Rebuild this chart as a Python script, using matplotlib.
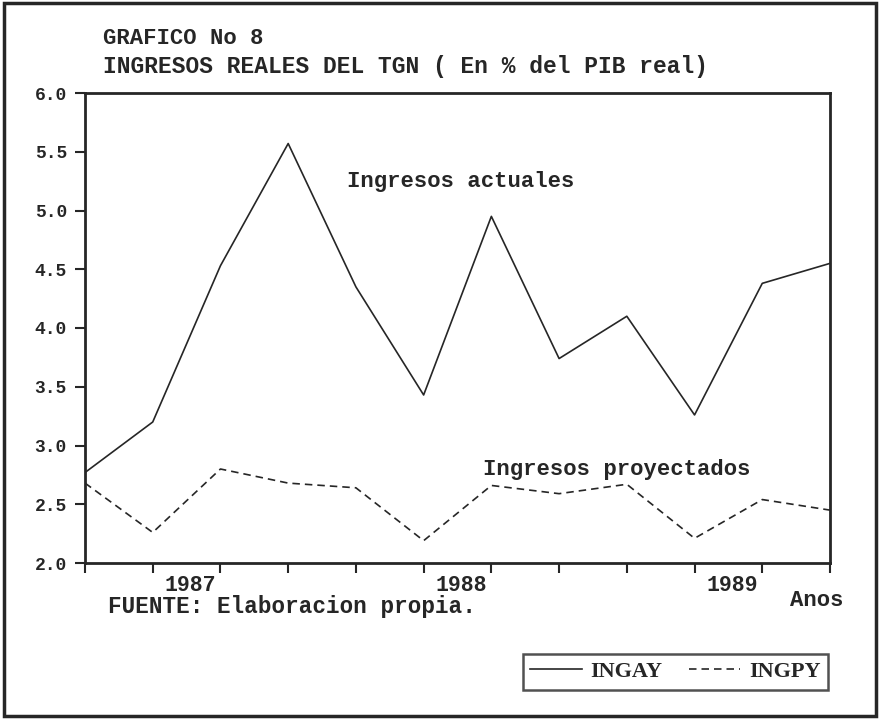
import numpy as np
import matplotlib
matplotlib.use("Agg")
import matplotlib.pyplot as plt
import matplotlib.transforms as mtransforms
from matplotlib.patches import Rectangle

# --- Quarterly series (% of real GDP) ---
quarters = np.arange(12)
ingay = [2.77, 3.20, 4.53, 5.57, 4.35, 3.43, 4.95, 3.74, 4.10, 3.26, 4.38, 4.55]
ingpy = [2.68, 2.26, 2.80, 2.68, 2.64, 2.19, 2.66, 2.59, 2.67, 2.21, 2.54, 2.45]
year_labels = ["", "", "1987", "", "", "", "1988", "", "", "", "1989", ""]
y_ticks = [2.0, 2.5, 3.0, 3.5, 4.0, 4.5, 5.0, 5.5, 6.0]

INK = "#262626"
FONT = "Liberation Mono"

plt.rcParams["font.family"] = FONT
plt.rcParams["font.weight"] = "bold"


def main():
    fig = plt.figure(figsize=(8.8, 7.19), dpi=100)
    W, H = 880, 719
    ax = fig.add_axes([85 / W, 1 - 563 / H, (830 - 85) / W, (563 - 93) / H])

    line_a, = ax.plot(quarters, ingay, color=INK, lw=1.2, label="INGAY")
    line_p, = ax.plot(quarters, ingpy, color=INK, lw=1.2, linestyle=(0, (4.5, 3)), label="INGPY")

    ax.set_xlim(0, 11)
    ax.set_ylim(2.0, 6.0)
    ax.set_yticks(y_ticks)
    ax.set_yticklabels([f"{v:.1f}" for v in y_ticks], fontsize=13, color=INK)
    ax.set_xticks(quarters)
    ax.set_xticklabels(year_labels, fontsize=15.5, color=INK, ha="right")
    ax.tick_params(axis="both", direction="out", length=7, width=1.5, color=INK)
    ax.tick_params(axis="y", pad=6)
    ax.tick_params(axis="x", pad=1.5)
    # shift the year labels slightly left of their tick
    offset = mtransforms.ScaledTranslation(-4 / 100, 0, fig.dpi_scale_trans)
    for lbl in ax.get_xticklabels():
        lbl.set_transform(lbl.get_transform() + offset)
    for sp in ax.spines.values():
        sp.set_linewidth(2.0)
        sp.set_color(INK)

    # titles and notes
    fig.text(103 / W, 1 - 38 / H, "GRAFICO No 8", fontsize=16, color=INK, va="center")
    fig.text(103 / W, 1 - 67 / H, "INGRESOS REALES DEL TGN ( En % del PIB real)",
             fontsize=16.5, color=INK, va="center")
    fig.text(347 / W, 1 - 181 / H, "Ingresos actuales", fontsize=16, color=INK, va="center")
    fig.text(483 / W, 1 - 470 / H, "Ingresos proyectados", fontsize=16, color=INK, va="center")
    fig.text(108 / W, 1 - 606 / H, "FUENTE: Elaboracion propia.", fontsize=16.3, color=INK, va="center")
    fig.text(790 / W, 1 - 601 / H, "Anos", fontsize=16, color=INK, va="center")

    # legend box along the bottom right
    leg = fig.legend(handles=[line_a, line_p], loc="center", ncol=2,
                     bbox_to_anchor=(675.5 / W, 1 - 672 / H),
                     prop={"family": "Liberation Serif", "weight": "bold", "size": 16},
                     frameon=True, fancybox=False, edgecolor=INK, handlelength=2.3,
                     columnspacing=1.2, handletextpad=0.4, borderpad=0.35)
    leg.get_frame().set_linewidth(1.8)
    for t in leg.get_texts():
        t.set_color(INK)

    # outer frame around the whole figure
    fig.patches.append(Rectangle((4 / W, 3 / H), 872 / W, 713 / H, transform=fig.transFigure,
                                 fill=False, edgecolor=INK, lw=2.5))

    fig.savefig("out.png", dpi=100)
    plt.close(fig)


if __name__ == "__main__":
    main()
